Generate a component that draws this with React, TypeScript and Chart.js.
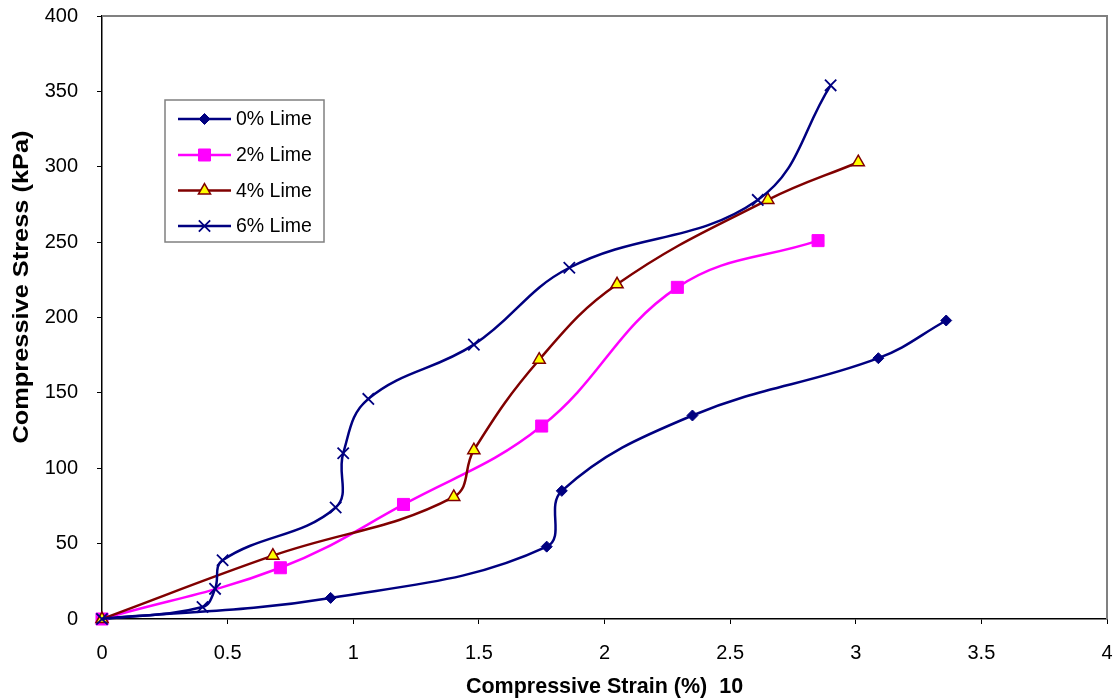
import React, { useEffect, useRef } from "react";
import { Chart, registerables } from "chart.js";

Chart.register(...registerables);

const seriesNames = ["0% Lime", "2% Lime", "4% Lime", "6% Lime"];

const strain0 = [0, 0.91, 1.77, 1.83, 2.35, 3.09, 3.36];
const stress0 = [0, 14, 48, 85, 135, 173, 198];

const strain2 = [0, 0.71, 1.2, 1.75, 2.29, 2.85];
const stress2 = [0, 34, 76, 128, 220, 251];

const strain4 = [0, 0.68, 1.4, 1.48, 1.74, 2.05, 2.65, 3.01];
const stress4 = [0, 42, 81, 112, 172, 222, 278, 303];

const strain6 = [0, 0.4, 0.45, 0.48, 0.93, 0.96, 1.06, 1.48, 1.86, 2.61, 2.9];
const stress6 = [0, 8, 20, 39, 74, 110, 146, 182, 233, 278, 354];

const xTitle = "Compressive Strain (%)  10";
const yTitle = "Compressive Stress (kPa)";

const FONT = "'Liberation Sans', Arial, sans-serif";

const toPoints = (xs: number[], ys: number[]) => xs.map((x, i) => ({ x, y: ys[i] }));

const styles = [
  { line: "#000080", fill: "#000080", border: "#000080", pointStyle: "rectRot", radius: 5.5, bw: 1 },
  { line: "#FF00FF", fill: "#FF00FF", border: "#FF00FF", pointStyle: "rect", radius: 8.5, bw: 1 },
  { line: "#800000", fill: "#FFFF00", border: "#800000", pointStyle: "triangle", radius: 7, bw: 1.5 },
  { line: "#000080", fill: "#000080", border: "#000080", pointStyle: "crossRot", radius: 8, bw: 1.8 },
];

function drawMarker(ctx: CanvasRenderingContext2D, style: string, r: number, x: number, y: number) {
  ctx.beginPath();
  if (style === "rectRot") {
    ctx.moveTo(x, y - r);
    ctx.lineTo(x + r, y);
    ctx.lineTo(x, y + r);
    ctx.lineTo(x - r, y);
    ctx.closePath();
    ctx.fill();
    ctx.stroke();
  } else if (style === "rect") {
    const s = r * Math.SQRT1_2;
    ctx.rect(x - s, y - s, 2 * s, 2 * s);
    ctx.fill();
    ctx.stroke();
  } else if (style === "triangle") {
    const h = r * Math.sin(Math.PI / 3);
    ctx.moveTo(x, y - r);
    ctx.lineTo(x + h, y + r / 2);
    ctx.lineTo(x - h, y + r / 2);
    ctx.closePath();
    ctx.fill();
    ctx.stroke();
  } else {
    const o = r * Math.SQRT1_2;
    ctx.moveTo(x - o, y - o);
    ctx.lineTo(x + o, y + o);
    ctx.moveTo(x + o, y - o);
    ctx.lineTo(x - o, y + o);
    ctx.stroke();
  }
}

const frameAndLegend = {
  id: "frameAndLegend",
  beforeDatasetsDraw(chart: any) {
    const { ctx, chartArea } = chart;
    ctx.save();
    ctx.strokeStyle = "#808080";
    ctx.lineWidth = 2;
    ctx.beginPath();
    ctx.moveTo(chartArea.left, chartArea.top);
    ctx.lineTo(chartArea.right, chartArea.top);
    ctx.lineTo(chartArea.right, chartArea.bottom);
    ctx.stroke();
    ctx.restore();
  },
  afterDraw(chart: any) {
    const { ctx } = chart;
    ctx.save();
    // y-axis title (slightly stretched along its length, as in the reference)
    ctx.translate(22, 287);
    ctx.rotate(-Math.PI / 2);
    ctx.scale(1.18, 1);
    ctx.fillStyle = "#000";
    ctx.font = `bold 21.5px ${FONT}`;
    ctx.textAlign = "center";
    ctx.textBaseline = "middle";
    ctx.fillText(yTitle, 0, 0);
    ctx.restore();

    ctx.save();
    const bx = 165, by = 100, bw = 159, bh = 142;
    ctx.fillStyle = "#ffffff";
    ctx.fillRect(bx, by, bw, bh);
    ctx.strokeStyle = "#808080";
    ctx.lineWidth = 1.5;
    ctx.strokeRect(bx, by, bw, bh);
    const rows = [119, 155, 190.5, 226];
    rows.forEach((ry, i) => {
      const st = styles[i];
      ctx.strokeStyle = st.line;
      ctx.lineWidth = 2.5;
      ctx.beginPath();
      ctx.moveTo(178, ry);
      ctx.lineTo(231, ry);
      ctx.stroke();
      ctx.fillStyle = st.fill;
      ctx.strokeStyle = st.border;
      ctx.lineWidth = st.bw;
      drawMarker(ctx, st.pointStyle, st.radius, 204.5, ry);
      ctx.fillStyle = "#000";
      ctx.font = `19.5px ${FONT}`;
      ctx.textBaseline = "middle";
      ctx.textAlign = "left";
      ctx.fillText(seriesNames[i], 236, ry + 1);
    });
    ctx.restore();
  },
};

export default function App() {
  const ref = useRef<HTMLCanvasElement | null>(null);

  useEffect(() => {
    if (!ref.current) return;
    const all = [
      toPoints(strain0, stress0),
      toPoints(strain2, stress2),
      toPoints(strain4, stress4),
      toPoints(strain6, stress6),
    ];
    const chart = new Chart(ref.current, {
      type: "scatter",
      data: {
        datasets: all.map((pts, i) => ({
          label: seriesNames[i],
          data: pts,
          showLine: true,
          borderColor: styles[i].line,
          borderWidth: 2.5,
          tension: 0.4,
          pointStyle: styles[i].pointStyle as any,
          pointRadius: styles[i].radius,
          pointBackgroundColor: styles[i].fill,
          pointBorderColor: styles[i].border,
          pointBorderWidth: styles[i].bw,
          clip: false as any,
          order: 4 - i,
        })),
      },
      options: {
        responsive: false,
        animation: false,
        devicePixelRatio: 1,
        layout: { padding: { top: 16, right: 11, left: 0, bottom: 0 } },
        plugins: {
          legend: { display: false },
          tooltip: { enabled: false },
        },
        scales: {
          x: {
            type: "linear",
            min: 0,
            max: 4,
            afterFit: (s: any) => {
              s.height = 81;
              s.paddingLeft = 0;
              s.paddingRight = 0;
            },
            ticks: {
              stepSize: 0.5,
              color: "#000",
              padding: 17,
              maxRotation: 0,
              autoSkip: false,
              font: { family: FONT, size: 20 },
              callback: (v: any) => String(Number(v)),
            },
            grid: {
              display: true,
              drawOnChartArea: false,
              drawTicks: true,
              tickLength: 5,
              color: "#000",
            },
            border: { display: true, color: "#000", width: 1.5 },
            title: {
              display: true,
              text: xTitle,
              color: "#000",
              font: { family: FONT, size: 21.5, weight: "bold" },
              padding: { top: 0, bottom: 0 },
            },
          },
          y: {
            type: "linear",
            min: 0,
            max: 400,
            afterFit: (s: any) => {
              s.width = 102;
              s.paddingTop = 0;
              s.paddingBottom = 0;
            },
            ticks: {
              stepSize: 50,
              color: "#000",
              padding: 19,
              font: { family: FONT, size: 20 },
              callback: (v: any) => String(Number(v)),
            },
            grid: {
              display: true,
              drawOnChartArea: false,
              drawTicks: true,
              tickLength: 5,
              color: "#000",
            },
            border: { display: true, color: "#000", width: 1.5 },
            title: { display: false },
          },
        },
      },
      plugins: [frameAndLegend],
    });
    return () => chart.destroy();
  }, []);

  return (
    <div style={{ position: "fixed", left: 0, top: 0, width: 1118, height: 700, background: "#fff" }}>
      <canvas ref={ref} width={1118} height={700} style={{ display: "block" }} />
    </div>
  );
}
